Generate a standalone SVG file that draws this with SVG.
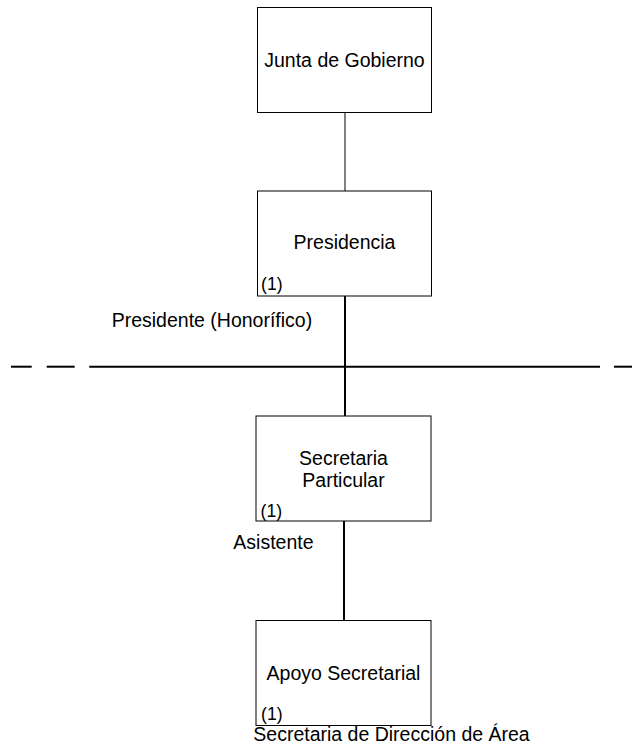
<svg xmlns="http://www.w3.org/2000/svg" width="632" height="756" viewBox="0 0 632 756">
<style>
.box{fill:#fff;stroke:#000;stroke-width:1}
.t{font-family:"Liberation Sans",Arial,sans-serif;font-size:19.5px;fill:#000}
.c{text-anchor:middle}
.n{font-family:"Liberation Sans",Arial,sans-serif;font-size:17.7px;fill:#000}
.thin{stroke:#000;stroke-width:1;fill:none}
.thick{stroke:#000;stroke-width:2;fill:none}
</style>
<rect width="632" height="756" fill="#fff"/>
<g id="connectors">
<line class="thin" x1="345" y1="112" x2="345" y2="191"/>
<line class="thick" x1="345" y1="296" x2="345" y2="416"/>
<line class="thick" x1="344" y1="521" x2="344" y2="620"/>
<g id="separator">
<line class="thick" x1="11" y1="366.7" x2="31.7" y2="366.7"/>
<line class="thick" x1="46.7" y1="366.7" x2="74.7" y2="366.7"/>
<line class="thick" x1="89.3" y1="366.7" x2="600" y2="366.7"/>
<line class="thick" x1="614" y1="366.7" x2="632" y2="366.7"/>
</g>
</g>
<g id="junta">
<rect class="box" x="257.5" y="7.5" width="174" height="105"/>
<text class="t c" x="344.5" y="66.7">Junta de Gobierno</text>
</g>
<g id="presidencia">
<rect class="box" x="257.5" y="191" width="174" height="105"/>
<text class="t c" x="344.5" y="249">Presidencia</text>
<text class="n" x="261" y="290">(1)</text>
<text class="t" x="111.7" y="326.7">Presidente (Honorífico)</text>
</g>
<g id="secretaria-particular">
<rect class="box" x="256" y="416" width="175" height="105"/>
<text class="t c" x="343.5" y="465">Secretaria</text>
<text class="t c" x="343.5" y="487">Particular</text>
<text class="n" x="260.5" y="517">(1)</text>
<text class="t" x="233.3" y="549.3">Asistente</text>
</g>
<g id="apoyo-secretarial">
<rect class="box" x="256" y="620.5" width="175" height="105"/>
<text class="t c" x="343.5" y="680">Apoyo Secretarial</text>
<text class="n" x="261" y="719.5">(1)</text>
<text class="t" x="253.3" y="741">Secretaria de Dirección de Área</text>
</g>
</svg>
